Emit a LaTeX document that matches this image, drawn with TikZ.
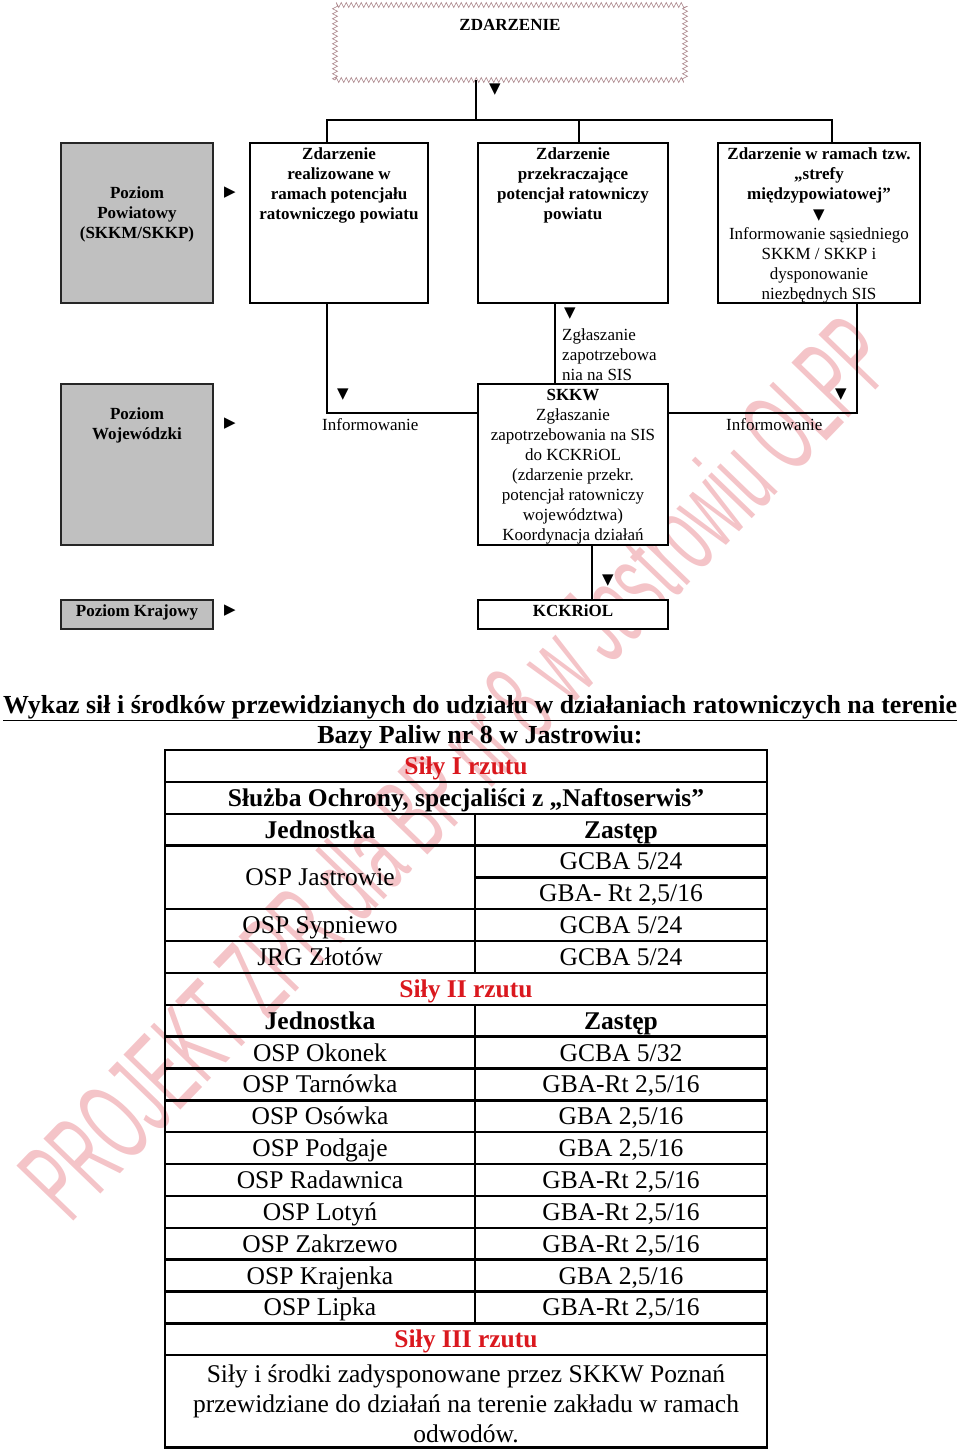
\documentclass[tikz,border=0pt]{standalone}
\usepackage{fontspec}
\setmainfont{Liberation Serif}
\newfontfamily\symfont{DejaVu Sans}
\newfontfamily\wmfont{Liberation Sans}
\usepackage{graphicx}
\usepackage{tikz}
\usetikzlibrary{positioning,decorations.pathmorphing}
\usepackage{xcolor}
\definecolor{rzut}{RGB}{218,24,30}
\definecolor{poziom}{RGB}{192,192,192}
\definecolor{znakwodny}{RGB}{244,196,200}
\definecolor{zdramka}{RGB}{165,125,130}

\newcommand{\tdown}{{\symfont\fontsize{15}{15}\selectfont ▼}}
\newcommand{\tright}{{\symfont\fontsize{15}{15}\selectfont ▶}}
\newcommand{\topbox}[4]{\parbox[t][#1][t]{#2}{\centering\vspace*{#3}\strut #4}}

\begin{document}
\begin{tikzpicture}[x=1pt,y=-1pt,
  every node/.style={inner sep=0pt},
  evbox/.style={draw=zdramka, line width=0.6pt, decorate,
    decoration={zigzag, segment length=5pt, amplitude=2.5pt},
    font=\fontsize{17}{20}\selectfont},
  lvlbox/.style={draw=black!85, fill=poziom, line width=1.3pt,
    font=\fontsize{17}{20}\selectfont\bfseries},
  flowbox/.style={draw, fill=white, line width=1.3pt, font=\fontsize{17}{20}\selectfont},
  conn/.style={line width=1.3pt},
  note/.style={font=\fontsize{17}{20}\selectfont},
  titl/.style={font=\fontsize{26}{30}\selectfont\bfseries},
  cell/.style={font=\fontsize{25.5}{30}\selectfont, text height=17pt, text depth=0pt},
  headc/.style={cell, font=\fontsize{25.5}{30}\selectfont\bfseries},
  rzutc/.style={headc, text=rzut},
  opis/.style={font=\fontsize{25.5}{30}\selectfont, align=center},
  grid/.style={line width=2.4pt},
  znakw/.style={text=znakwodny, font=\wmfont\fontsize{115}{115}\selectfont}]

\useasboundingbox (0,0) rectangle (960,1449);

% watermark
\node[znakw, anchor=base west, rotate=46] (znak) at (70,1225)
  {\scalebox{0.505}[1]{PROJEKT ZPR dla BP nr 8 w Jastrowiu OLPP}};

% flowchart
\node[evbox] (zdarz) at (510,42.5) {\topbox{75pt}{350pt}{11.6pt}{\bfseries ZDARZENIE}};

\node[lvlbox] (powiat) at (137,223) {\topbox{160pt}{152pt}{41.6pt}{Poziom\\ Powiatowy\\ (SKKM/SKKP)}};
\node[lvlbox] (wojew) at (137,464.5) {\topbox{161pt}{152pt}{21.6pt}{Poziom\\ Wojewódzki}};
\node[lvlbox] (kraj) at (137,614.5) {\topbox{29pt}{152pt}{2.6pt}{Poziom Krajowy}};

\node[flowbox] (zd1) at (339,223) {\topbox{160pt}{178pt}{2.6pt}{\bfseries Zdarzenie\\ realizowane w\\ ramach potencjału\\ ratowniczego powiatu}};
\node[flowbox] (zd2) at (573,223) {\topbox{160pt}{190pt}{2.6pt}{\bfseries Zdarzenie\\ przekraczające\\ potencjał ratowniczy\\ powiatu}};
\node[flowbox] (zd3) at (819,223) {\topbox{160pt}{202pt}{2.6pt}{{\bfseries Zdarzenie w ramach tzw.\\ „strefy\\ międzypowiatowej”}\\ \tdown\\ Informowanie sąsiedniego\\ SKKM / SKKP i\\ dysponowanie\\ niezbędnych SIS}};
\node[flowbox] (skkw) at (573,464.5) {\topbox{161pt}{190pt}{2.6pt}{\textbf{SKKW}\\ Zgłaszanie\\ zapotrzebowania na SIS\\ do KCKRiOL\\ (zdarzenie przekr.\\ potencjał ratowniczy\\ województwa)\\ Koordynacja działań}};
\node[flowbox] (kck) at (573,614.5) {\topbox{29pt}{190pt}{2.6pt}{\bfseries KCKRiOL}};

\coordinate (jtop) at (476,120);
\coordinate (bus1) at (327,120);
\coordinate (bus2) at (579,120);
\coordinate (bus3) at (832,120);
\draw[conn] (zdarz.south -| jtop) -- (jtop);
\draw[conn] (bus1 |- zd1.north) -- (bus1) -- (bus3) -- (bus3 |- zd3.north);
\draw[conn] (bus2) -- (bus2 |- zd2.north);

\coordinate (inf1) at (327,413);
\coordinate (zgl) at (555,340);
\coordinate (inf3) at (857,413);
\coordinate (krs) at (592,570);
\draw[conn] (inf1 |- zd1.south) -- (inf1) -- (inf1 -| skkw.west);
\draw[conn] (zgl |- zd2.south) -- (zgl |- skkw.north);
\draw[conn] (inf3 |- zd3.south) -- (inf3) -- (inf3 -| skkw.east);
\draw[conn] (krs |- skkw.south) -- (krs |- kck.north);

\node (t0) at (495,90) {\tdown};
\node (t1) at (343,395) {\tdown};
\node (t2) at (570,314) {\tdown};
\node (t3) at (841,395) {\tdown};
\node (t4) at (608,581) {\tdown};
\node (r1) at (230,193) {\tright};
\node (r2) at (230,424) {\tright};
\node (r3) at (230,611) {\tright};

\node[note, anchor=base west] (inf1t) at (322,430) {Informowanie};
\node[note, anchor=base west] (inf3t) at (726,430) {Informowanie};
\node[note, anchor=north west, align=left] (zglt) at (562,328) {Zgłaszanie\\ zapotrzebowa\\ nia na SIS};

% title
\node[titl, anchor=base] (tyt1) at (480,713.5) {\resizebox{954pt}{\height}{\underline{Wykaz sił i środków przewidzianych do udziału w działaniach ratowniczych na terenie}}};
\node[titl, anchor=base] (tyt2) at (480,743.5) {\underline{Bazy Paliw nr 8 w Jastrowiu:}};

% table
\begin{scope}[shift={(0pt,-750pt)}, y=-31.85pt]
  \draw[grid] (165,0) rectangle (767,21.9);
  \foreach \k in {1,2,3,5,6,...,19} \draw[grid] (165,\k) -- (767,\k);
  \draw[grid] (475,4) -- (767,4);
  \draw[grid] (475,2) -- (475,7) (475,8) -- (475,18);

  \node[rzutc] (rz1) at (466,0.5) {Siły I rzutu};
  \node[headc] (sluzba) at (466,1.5) {Służba Ochrony, specjaliści z „Naftoserwis”};
  \node[headc] (jed1) at (320,2.5) {Jednostka};
  \node[headc] (zas1) at (621,2.5) {Zastęp};
  \node[cell] (osp1) at (320,4) {OSP Jastrowie};
  \node[cell] (poj1a) at (621,3.5) {GCBA 5/24};
  \node[cell] (poj1b) at (621,4.5) {GBA- Rt 2,5/16};
  \node[cell] (osp2) at (320,5.5) {OSP Sypniewo};
  \node[cell] (poj2) at (621,5.5) {GCBA 5/24};
  \node[cell] (jrg) at (320,6.5) {JRG Złotów};
  \node[cell] (poj3) at (621,6.5) {GCBA 5/24};

  \node[rzutc] (rz2) at (466,7.5) {Siły II rzutu};
  \node[headc] (jed2) at (320,8.5) {Jednostka};
  \node[headc] (zas2) at (621,8.5) {Zastęp};
  \foreach \jn/\zs [count=\i from 9] in {{OSP Okonek}/{GCBA 5/32},
      {OSP Tarnówka}/{GBA-Rt 2,5/16}, {OSP Osówka}/{GBA 2,5/16},
      {OSP Podgaje}/{GBA 2,5/16}, {OSP Radawnica}/{GBA-Rt 2,5/16},
      {OSP Lotyń}/{GBA-Rt 2,5/16}, {OSP Zakrzewo}/{GBA-Rt 2,5/16},
      {OSP Krajenka}/{GBA 2,5/16}, {OSP Lipka}/{GBA-Rt 2,5/16}} {
    \node[cell] (jn\i) at (320,\i+0.5) {\jn};
    \node[cell] (zs\i) at (621,\i+0.5) {\zs};
  }

  \node[rzutc] (rz3) at (466,18.5) {Siły III rzutu};
  \node[opis, anchor=north] (odwody) at (466,19.28) {Siły i środki zadysponowane przez SKKW Poznań\\ przewidziane do działań na terenie zakładu w ramach\\ odwodów.};
\end{scope}
\end{tikzpicture}
\end{document}
